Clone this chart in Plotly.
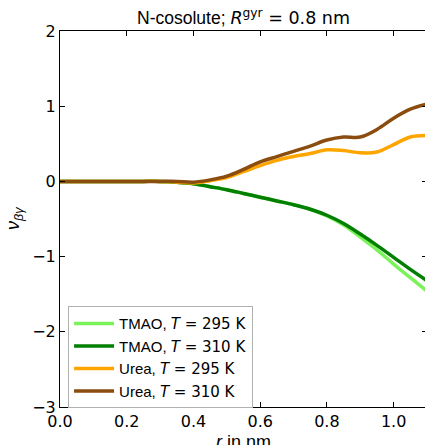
import plotly.graph_objects as go

r = [0.0, 0.05, 0.1, 0.15, 0.2, 0.25, 0.3, 0.35, 0.4, 0.45, 0.5, 0.55, 0.6, 0.65,
     0.7, 0.75, 0.8, 0.85, 0.9, 0.95, 1.0, 1.05, 1.1]

tmao_295 = [0, 0, 0, 0, 0, 0, 0, -0.01, -0.03, -0.07, -0.11, -0.16, -0.21, -0.26,
            -0.31, -0.37, -0.46, -0.58, -0.74, -0.91, -1.10, -1.28, -1.46]
tmao_310 = [0, 0, 0, 0, 0, 0, 0, -0.01, -0.03, -0.07, -0.11, -0.16, -0.21, -0.26,
            -0.31, -0.37, -0.45, -0.56, -0.70, -0.85, -1.01, -1.17, -1.32]
urea_295 = [0, 0, 0, 0, 0, 0, 0, -0.01, -0.02, 0.01, 0.05, 0.13, 0.21, 0.28,
            0.33, 0.37, 0.42, 0.41, 0.38, 0.39, 0.49, 0.59, 0.61]
urea_310 = [0, 0, 0, 0, 0, 0, 0, 0.0, -0.01, 0.02, 0.07, 0.16, 0.26, 0.33,
            0.40, 0.47, 0.55, 0.59, 0.59, 0.69, 0.84, 0.96, 1.03]

MATH = "<span style='font-family:DejaVu Sans'>"
names = ["TMAO, " + MATH + "<i>T</i> = 295 K</span>",
         "TMAO, " + MATH + "<i>T</i> = 310 K</span>",
         "Urea, " + MATH + "<i>T</i> = 295 K</span>",
         "Urea, " + MATH + "<i>T</i> = 310 K</span>"]
series = [tmao_295, tmao_310, urea_295, urea_310]
colors = ["#7CF25A", "#007F00", "#FFA500", "#8B4C0F"]

x_ticks = [0.0, 0.2, 0.4, 0.6, 0.8, 1.0]
x_ticklabels = ["0.0", "0.2", "0.4", "0.6", "0.8", "1.0"]
y_ticks = [-3, -2, -1, 0, 1, 2]
y_ticklabels = ["\u22123", "\u22122", "\u22121", "0", "1", "2"]

title_text = "N-cosolute; " + MATH + "<i>R</i><sup>gyr</sup> = 0.8 nm</span>"
xlabel_text = "<i>r</i> in nm"
ylabel_text = "<i>ν</i><sub><i>βγ</i></sub>"

font = "Liberation Sans, Arial, sans-serif"
tickfont = "DejaVu Sans, sans-serif"

fig = go.Figure()
for name, vals, col in zip(names, series, colors):
    fig.add_trace(go.Scatter(x=r, y=vals, mode="lines", name=name,
                             line=dict(color=col, width=3.5, shape="spline", smoothing=1.0)))

fig.update_layout(
    width=427, height=445,
    margin=dict(l=60, r=0, t=31, b=38),
    paper_bgcolor="white", plot_bgcolor="white",
    font=dict(family=font, size=14, color="black"),
    title=dict(text=title_text,
               x=0.5, xref="paper", xanchor="center",
               y=1, yref="paper", yanchor="bottom", pad=dict(b=7),
               font=dict(family=font, size=17.5, color="black")),
    legend=dict(x=0.022, y=-0.003, xanchor="left", yanchor="bottom",
                bgcolor="white", bordercolor="#b0b0b0", borderwidth=1,
                font=dict(family=font, size=15, color="black"),
                itemwidth=40, tracegroupgap=0),
    showlegend=True,
    annotations=[
        dict(text=xlabel_text, x=0.5, xref="paper", y=0, yref="paper",
             xanchor="center", yanchor="top", yshift=-23, showarrow=False,
             font=dict(family=font, size=18, color="black")),
        dict(text=ylabel_text, x=0, xref="paper", y=0.5, yref="paper",
             xanchor="center", yanchor="middle", xshift=-46, textangle=-90,
             showarrow=False, font=dict(family=font, size=18, color="black")),
    ],
)
fig.update_xaxes(range=[0, 1.1], tickvals=x_ticks, ticktext=x_ticklabels,
                 ticks="inside", ticklen=5, tickcolor="black",
                 showline=True, linecolor="black", linewidth=1, mirror="ticks",
                 showgrid=False, zeroline=False, automargin=False,
                 tickfont=dict(family=tickfont, size=16))
fig.update_yaxes(range=[-3, 2], tickvals=y_ticks, ticktext=y_ticklabels,
                 ticks="inside", ticklen=5, tickcolor="black",
                 showline=True, linecolor="black", linewidth=1, mirror="ticks",
                 showgrid=False, zeroline=False, automargin=False,
                 tickfont=dict(family=tickfont, size=16))

fig.write_html(
    "out.html",
    config={"displayModeBar": False},
    post_script=(
        "document.body.style.margin='0';"
        "document.body.style.overflow='hidden';"
        "document.documentElement.style.overflow='hidden';"
    ),
)
